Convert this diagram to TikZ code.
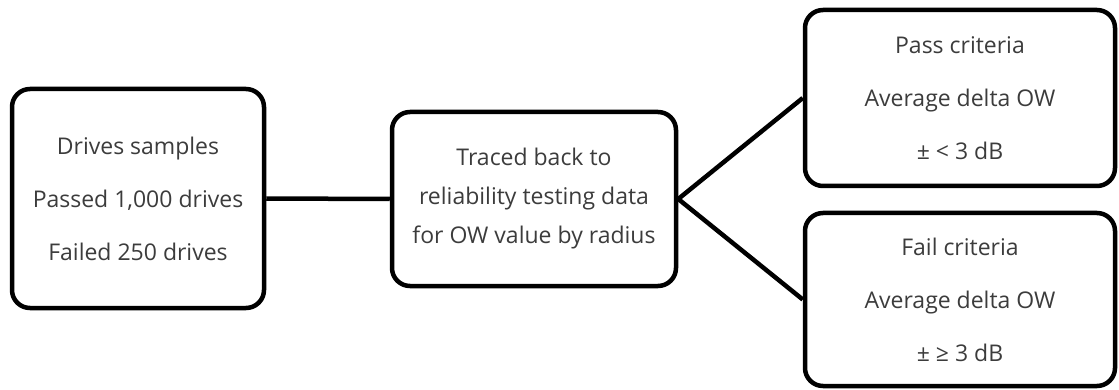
\documentclass[tikz,border=0pt]{standalone}
\usepackage{fontspec}
\setmainfont{Open Sans}
\definecolor{txt}{HTML}{3C3C3C}
\tikzset{
  box/.style={draw=black, line width=4.5pt, rounded corners=18pt, fill=white,
    align=center, text=txt, inner sep=0pt},
  wide/.style={font=\fontsize{23}{53}\selectfont},
  tight/.style={font=\fontsize{23}{39}\selectfont},
  conn/.style={draw=black, line width=4.5pt}
}
\begin{document}
\begin{tikzpicture}[x=1pt,y=-1pt]
\useasboundingbox (0,0) rectangle (1119,390);
\node[box, wide, minimum width=252pt, minimum height=219pt] (src) at (138,198.5)
  {Drives samples\\Passed 1,000 drives\\Failed 250 drives};
\node[box, tight, minimum width=284pt, minimum height=174pt] (mid) at (534,199)
  {Traced back to\\reliability testing data\\for OW value by radius};
\node[box, wide, minimum width=310pt, minimum height=176pt] (pass) at (960,98)
  {Pass criteria\\Average delta OW\\± < 3 dB};
\node[box, wide, minimum width=310pt, minimum height=173pt] (fail) at (960,299.5)
  {Fail criteria\\Average delta OW\\± ≥ 3 dB};
\draw[conn] (src.east) -- (mid.west);
\draw[conn] (mid.east) -- (pass.west);
\draw[conn] (mid.east) -- (fail.west);
\end{tikzpicture}
\end{document}
